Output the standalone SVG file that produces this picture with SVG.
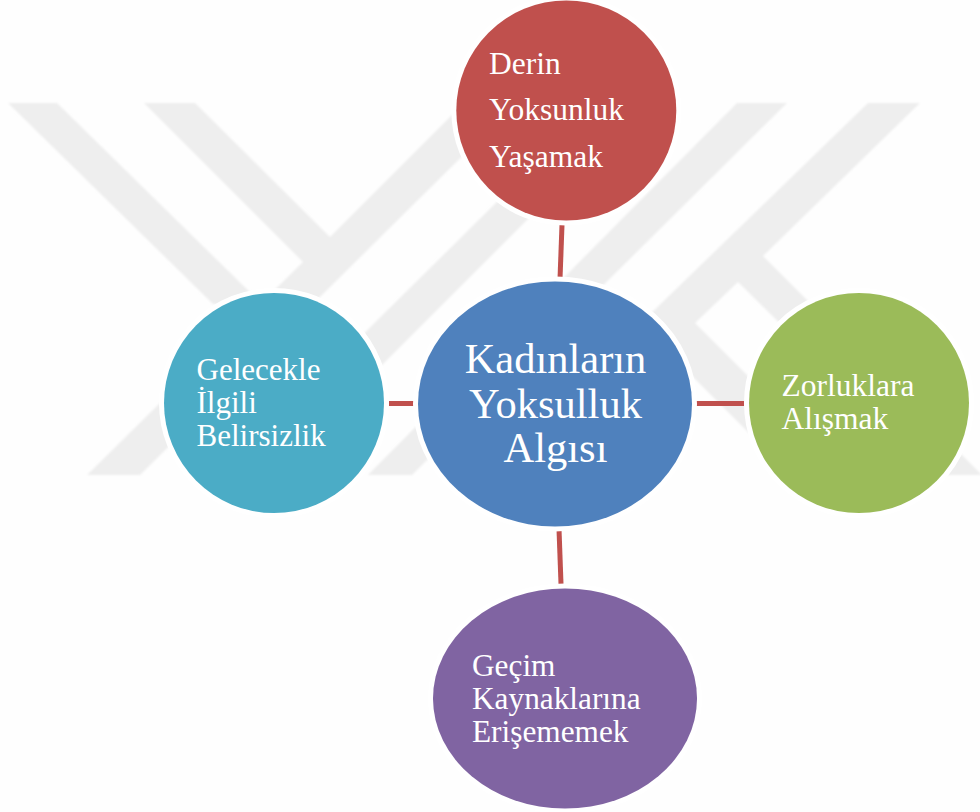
<svg xmlns="http://www.w3.org/2000/svg" width="980" height="812" viewBox="0 0 980 812">
<defs>
<filter id="soft" x="-5%" y="-5%" width="110%" height="110%"><feGaussianBlur stdDeviation="0.8"/></filter>
</defs>
<style>
.wm{fill:#eeeeee}
.halo{stroke:#ffffff;stroke-width:10;paint-order:stroke}
.conn{stroke:#c0504d;stroke-width:5;fill:none}
text{font-family:"Liberation Serif","Times New Roman",serif;fill:#ffffff;font-size:31px}
.big{font-size:42.5px;text-anchor:middle}
.m{font-size:31.5px}
</style>
<rect width="980" height="812" fill="#fefefe"/>
<g id="watermark" filter="url(#soft)">
<path class="wm" d="M8 103H57L262 304H213Z"/>
<path class="wm" d="M144 103H195L330 237L464 103H516L140 475H87L303 262Z"/>
<path class="wm" d="M597 103H644L345 402L330 367Z"/>
<path class="wm" d="M737 103H787L412 475H368Z"/>
<path class="wm" d="M868 103H920L763 256L982 475H933L738 282L695 323L847 475H791L640 324Z"/>
</g>
<g id="connectors">
<line class="conn" x1="562" y1="225" x2="560" y2="279"/>
<line class="conn" x1="559" y1="529" x2="561" y2="584"/>
<line class="conn" x1="389" y1="403.5" x2="416" y2="403.5"/>
<line class="conn" x1="694" y1="403.5" x2="744" y2="403.5"/>
</g>
<g id="node-center">
<ellipse class="halo" cx="555" cy="404" rx="137" ry="122.5" fill="#4f81bd"/>
<text class="big" x="555.5" y="373">Kadınların</text>
<text class="big" x="555.5" y="418">Yoksulluk</text>
<text class="big" x="555.5" y="462">Algısı</text>
</g>
<g id="node-top">
<ellipse class="halo" cx="566.3" cy="110.5" rx="110" ry="110" fill="#c0504d"/>
<text class="m" x="489" y="74">Derin</text>
<text class="m" x="489" y="120">Yoksunluk</text>
<text class="m" x="489" y="167">Yaşamak</text>
</g>
<g id="node-right">
<ellipse class="halo" cx="859" cy="403" rx="110" ry="110" fill="#9bbb59"/>
<text class="m" x="781.5" y="396">Zorluklara</text>
<text class="m" x="781.5" y="429">Alışmak</text>
</g>
<g id="node-bottom">
<ellipse class="halo" cx="565" cy="698.5" rx="132" ry="110" fill="#8064a2"/>
<text x="472" y="676" style="font-size:31.3px">Geçim</text>
<text x="472" y="709" style="font-size:31.3px">Kaynaklarına</text>
<text x="472" y="742" style="font-size:31.3px">Erişememek</text>
</g>
<g id="node-left">
<ellipse class="halo" cx="274" cy="403" rx="110" ry="110" fill="#4bacc6"/>
<text x="196.5" y="380">Gelecekle</text>
<text x="196.5" y="413">İlgili</text>
<text x="196.5" y="446">Belirsizlik</text>
</g>
</svg>
